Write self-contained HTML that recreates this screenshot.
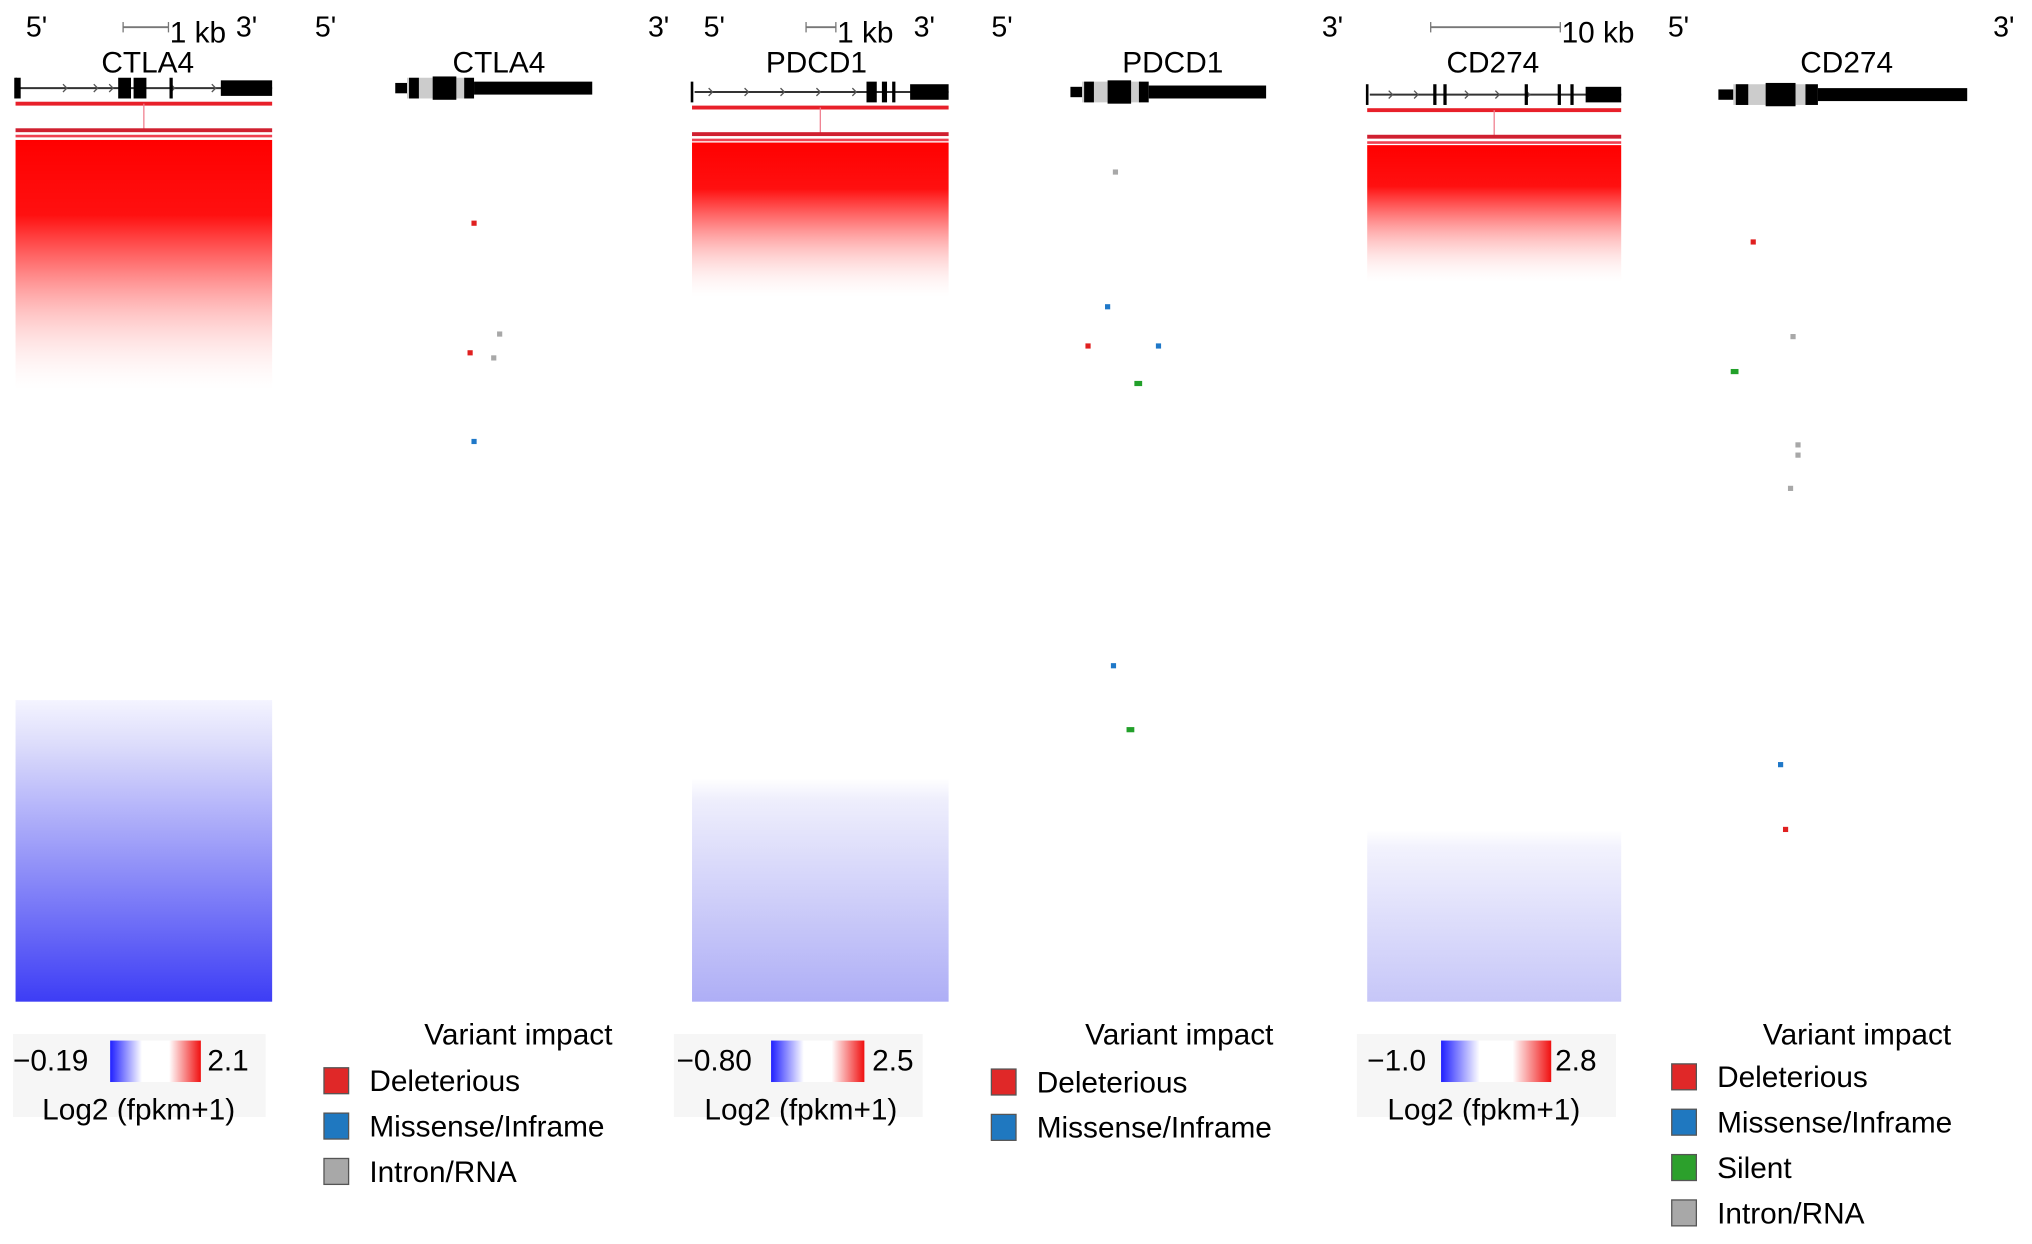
<!DOCTYPE html>
<html><head><meta charset="utf-8">
<style>
html,body{margin:0;padding:0;background:#fff;}
svg{display:block;font-family:"Liberation Sans",Arial,sans-serif;}
</style></head>
<body>
<svg id="fig" width="2032" height="1244" viewBox="0 0 1568 960" preserveAspectRatio="none" xmlns="http://www.w3.org/2000/svg">
<defs>
<linearGradient id="r1" x1="0" y1="0" x2="0" y2="1"><stop offset="0" stop-color="#ff0000"/><stop offset="0.3" stop-color="#ff1010"/><stop offset="0.55" stop-color="#ff8080" stop-opacity="0.9"/><stop offset="1" stop-color="#fff" stop-opacity="0.2"/></linearGradient>
<linearGradient id="b1" x1="0" y1="0" x2="0" y2="1"><stop offset="0" stop-color="#f4f4ff"/><stop offset="0.15" stop-color="#dcdcfb"/><stop offset="1" stop-color="#3d3df5"/></linearGradient>
<linearGradient id="b2" x1="0" y1="0" x2="0" y2="1"><stop offset="0" stop-color="#fff"/><stop offset="0.1" stop-color="#eeeefc"/><stop offset="1" stop-color="#aeaef6"/></linearGradient>
<linearGradient id="b3" x1="0" y1="0" x2="0" y2="1"><stop offset="0" stop-color="#fff"/><stop offset="0.1" stop-color="#f2f2fd"/><stop offset="1" stop-color="#c6c6f8"/></linearGradient>
<linearGradient id="cb" x1="0" y1="0" x2="1" y2="0"><stop offset="0" stop-color="#2020ff"/><stop offset="0.35" stop-color="#fff"/><stop offset="0.65" stop-color="#fff"/><stop offset="1" stop-color="#f01010"/></linearGradient>
</defs>
<g id="root"></g>
</svg>
<script>
// ---- data ----
const genes = ["CTLA4","PDCD1","CD274"];
const scaleLabels = ["1 kb","1 kb","10 kb"];
const cbMin = ["\u22120.19","\u22120.80","\u22121.0"];
const cbMax = ["2.1","2.5","2.8"];
// heatmap extents: red band end (fraction of heatmap height), blue band start
const redEnd = [0.29, 0.18, 0.16];
const blueStart = [0.65, 0.74, 0.80];
// variant dots: position along gene (0-1), rank (0-100), impact type
const ctlaPos = [0.40, 0.53, 0.38, 0.50, 0.40];
const ctlaRank = [8.7, 21.7, 23.9, 24.5, 34.3];
const ctlaType = ["del","intron","del","intron","mis"];
const pdcdPos = [0.23, 0.19, 0.09, 0.45, 0.34, 0.22, 0.30];
const pdcdRank = [2.7, 18.5, 23.1, 23.1, 27.5, 60.6, 68.1];
const pdcdType = ["intron","mis","del","mis","sil","mis","sil"];
const cdPos = [0.14, 0.30, 0.06, 0.32, 0.32, 0.29, 0.25, 0.27];
const cdRank = [10.9, 22.0, 26.1, 34.7, 35.9, 39.8, 72.2, 79.8];
const cdType = ["del","intron","sil","intron","intron","intron","mis","del"];
const legendLabels = [["Deleterious","Missense/Inframe","Intron/RNA"],["Deleterious","Missense/Inframe"],["Deleterious","Missense/Inframe","Silent","Intron/RNA"]];

const colors = {del:"#e02020",mis:"#1f78c8",sil:"#22a02a",intron:"#a8a8a8"};
const labelColors = {"Deleterious":"#e02828","Missense/Inframe":"#1f78c0","Silent":"#2ca02c","Intron/RNA":"#a8a8a8"};
const NS="http://www.w3.org/2000/svg";
const root=document.getElementById('root');
function mk(tag,attrs,parent,text){const e=document.createElementNS(NS,tag);for(const k in attrs)e.setAttribute(k,attrs[k]);if(text!==undefined)e.textContent=text;(parent||root).appendChild(e);return e;}

const heat=[{x:12,w:198,track:68,scaleX:[95,130],s5:30,s3:192,label:114,geneFill:"url(#b1)"},
            {x:534,w:198,track:71,scaleX:[622,645],s5:553,s3:715,label:630,geneFill:"url(#b2)"},
            {x:1055,w:196,track:73,scaleX:[1104,1204],s5:null,s3:null,label:1152,geneFill:"url(#b3)"}];
const lolli=[{x0:305,x1:457,track:68,s5:253,s3:510,label:385,leg:[250,797,400]},
             {x0:826,x1:977,track:71,s5:775,s3:1030,label:905,leg:[765,797,910]},
             {x0:1326,x1:1518,track:73,s5:1297,s3:1548,label:1425,leg:[1290,797,1433]}];
const cbBox=[{x:10,w:195,tmin:10,bar:[85,155],tmax:160,lab:107},
             {x:520,w:192,tmin:522,bar:[595,667],tmax:673,lab:618},
             {x:1047,w:200,tmin:1055,bar:[1112,1197],tmax:1200,lab:1145}];
const introns=[[0.2,0.32,0.38,0.5,0.62,0.78],[0.08,0.22,0.36,0.5,0.64],[0.1,0.2,0.4,0.52,0.64]];
const exons=[[[0,0.02],[0.4,0.45],[0.46,0.51],[0.6,0.61],[0.8,1]],[[0.68,0.72],[0.74,0.76],[0.78,0.79],[0.85,1]],[[0.26,0.27],[0.3,0.31],[0.62,0.63],[0.75,0.76],[0.8,0.81],[0.86,1]]];

const hmTop=[108,110,112], hmBot=773;
function yHeat(i,f){return hmTop[i]+f*(hmBot-hmTop[i]);}
function yRank(r){return 115+r*(773-115)/100;}

genes.forEach((g,i)=>{
  const h=heat[i];
  const grp=mk('g',{});
  
  
  if(h.s5!==null){mk('text',{x:h.s5-10,y:28,'font-size':22},grp,"5'");mk('text',{x:h.s3-10,y:28,'font-size':22},grp,"3'");}
  mk('line',{x1:h.scaleX[0],x2:h.scaleX[1],y1:21,y2:21,stroke:'#777','stroke-width':1.5},grp);
  mk('line',{x1:h.scaleX[0],x2:h.scaleX[0],y1:17,y2:25,stroke:'#777'},grp);
  mk('line',{x1:h.scaleX[1],x2:h.scaleX[1],y1:17,y2:25,stroke:'#777'},grp);
  const sl=mk('text',{x:h.scaleX[1]+1,y:33,'font-size':23},grp,scaleLabels[i]);
  
  
  const gl=mk('text',{x:h.label,y:56,'font-size':23,'text-anchor':'middle'},grp,g);
  
  
  mk('line',{x1:h.x+2,x2:h.x+h.w,y1:h.track,y2:h.track,stroke:'#333','stroke-width':1.5},grp);
  introns[i].forEach(f=>{const xx=h.x+f*h.w;mk('path',{d:`M${xx-3} ${h.track-3}L${xx} ${h.track}L${xx-3} ${h.track+3}`,stroke:'#555',fill:'none','stroke-width':1},grp);});
  exons[i].forEach(e=>{const big=e[1]-e[0]>0.1;mk('rect',{x:h.x+e[0]*h.w,y:h.track-(big?6:8),width:Math.max(2.5,(e[1]-e[0])*h.w),height:big?12:16,fill:'#000'},grp);});
  mk('line',{x1:h.x,x2:h.x,y1:h.track-8,y2:h.track+8,stroke:'#000','stroke-width':2},grp);
  const ry=h.track+12;
  mk('rect',{x:h.x,y:ry-1.5,width:h.w,height:3,fill:'#e8202a'},grp);
  mk('line',{x1:h.x+h.w/2,x2:h.x+h.w/2,y1:ry,y2:ry+20,stroke:'#f08090','stroke-width':1},grp);
  mk('rect',{x:h.x,y:ry+19,width:h.w,height:3,fill:'#d02030'},grp);
  mk('rect',{x:h.x,y:ry+24,width:h.w,height:2,fill:'#f04050'},grp);
  const rr=mk('rect',{x:h.x,y:hmTop[i],width:h.w,height:yHeat(i,redEnd[i])-hmTop[i],fill:'url(#r1)'},grp);
  
  
  const br=mk('rect',{x:h.x,y:yHeat(i,blueStart[i]),width:h.w,height:hmBot-yHeat(i,blueStart[i]),fill:h.geneFill},grp);
  
  
  const c=cbBox[i];
  const cg=mk('g',{},grp);
  
  
  mk('rect',{x:c.x,y:798,width:c.w,height:64,fill:'#f6f6f6'},cg);
  mk('text',{x:c.tmin,y:826,'font-size':23},cg,cbMin[i]);
  mk('rect',{x:c.bar[0],y:803,width:c.bar[1]-c.bar[0],height:32,fill:'url(#cb)'},cg);
  mk('text',{x:c.tmax,y:826,'font-size':23},cg,cbMax[i]);
  mk('text',{x:c.lab,y:864,'font-size':23,'text-anchor':'middle'},cg,"Log2 (fpkm+1)");

  const L=lolli[i];
  const lg=mk('g',{});
  
  
  mk('text',{x:L.s5-10,y:28,'font-size':22},lg,"5'");
  mk('text',{x:L.s3-10,y:28,'font-size':22},lg,"3'");
  mk('text',{x:L.label,y:56,'font-size':23,'text-anchor':'middle'},lg,g);
  const W=L.x1-L.x0;
  mk('rect',{x:L.x0,y:L.track-4,width:W*0.06,height:8,fill:'#000'},lg);
  mk('rect',{x:L.x0+W*0.06,y:L.track-8,width:W*0.3,height:16,fill:'#ccc'},lg);
  mk('rect',{x:L.x0+W*0.07,y:L.track-8,width:W*0.05,height:16,fill:'#000'},lg);
  mk('rect',{x:L.x0+W*0.19,y:L.track-9,width:W*0.12,height:18,fill:'#000'},lg);
  mk('rect',{x:L.x0+W*0.35,y:L.track-8,width:W*0.05,height:16,fill:'#000'},lg);
  mk('rect',{x:L.x0+W*0.4,y:L.track-5,width:W*0.6,height:10,fill:'#000'},lg);
  const pos=[ctlaPos,pdcdPos,cdPos][i], rank=[ctlaRank,pdcdRank,cdRank][i], typ=[ctlaType,pdcdType,cdType][i];
  pos.forEach((p,k)=>{
    const d=mk('rect',{x:L.x0+p*W-2,y:yRank(rank[k])-2,width:typ[k]==='sil'?6:4,height:4,fill:colors[typ[k]]},lg);
    
    
  });
  const vg=mk('g',{},lg);
  
  
  mk('text',{x:L.leg[2],y:806,'font-size':23,'text-anchor':'middle'},vg,"Variant impact");
  legendLabels[i].forEach((t,k)=>{
    const yy=(i===2?831:(i===1?835:834))+k*35;
    const e=mk('g',{},vg);
    
    
    mk('rect',{x:L.leg[0],y:yy-10,width:19,height:20,fill:labelColors[t],stroke:'#555','stroke-width':1},e);
    mk('text',{x:L.leg[0]+35,y:yy+8,'font-size':23},e,t);
  });
});
</script>
</body></html>
